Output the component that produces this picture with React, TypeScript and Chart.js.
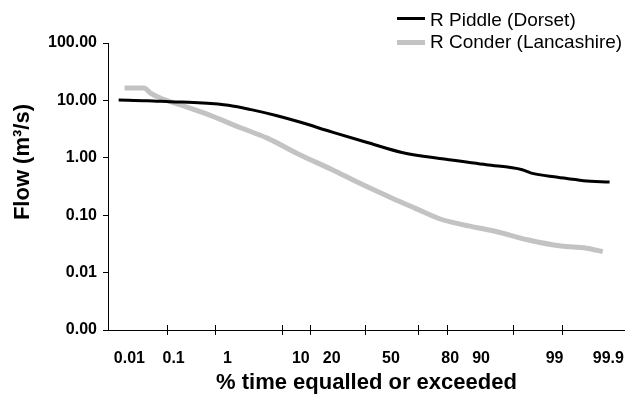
import React, { useEffect, useRef } from 'react';
import { Chart, registerables } from 'chart.js';

Chart.register(...registerables);

// ---- data (percent of time equalled or exceeded, flow in m3/s) ----
const piddlePct = [0.0054, 0.0265, 0.084, 0.367, 1.04, 2.34, 5.27, 9.73, 20.2, 36.8, 56.2, 77.5, 91.25, 96.9, 97.7, 99.11, 99.69, 99.906];
const piddleFlow = [10.2, 9.9, 9.5, 9.0, 8.2, 6.9, 5.4, 4.2, 2.8, 1.85, 1.24, 0.95, 0.755, 0.62, 0.54, 0.46, 0.40, 0.377];

const conderPct = [0.0076, 0.0223, 0.0315, 0.052, 0.134, 0.483, 1.67, 3.94, 9.73, 20.2, 32.9, 50.7, 63.3, 76.1, 84.9, 93.25, 97.47, 99.22, 99.73, 99.87];
const conderFlow = [16.5, 16.5, 13.4, 11.0, 8.4, 5.6, 3.3, 2.2, 1.13, 0.62, 0.36, 0.198, 0.133, 0.085, 0.068, 0.052, 0.037, 0.029, 0.0266, 0.0232];

const seriesNames = ['R Piddle (Dorset)', 'R Conder (Lancashire)'];
const seriesColors = ['#000000', '#c3c3c3'];

// x axis: probability scale
const xLabelPct = [0.01, 0.1, 1, 10, 20, 50, 80, 90, 99, 99.9];
const xLabelText = ['0.01', '0.1', '1', '10', '20', '50', '80', '90', '99', '99.9'];
const xTickMarkPct = [0.0711, 0.612, 6.15, 12.53, 35.42, 65.06, 78.61, 95.89, 99.26];
const xRangePct = [0.00287, 99.956];

// y axis: log scale
const yTickValues = [0.001, 0.01, 0.1, 1, 10, 100];

const xTitle = '% time equalled or exceeded';
const yTitle = 'Flow (m\u00b3/s)';

// inverse standard normal CDF (Acklam)
function normInv(p: number): number {
  const a = [-3.969683028665376e1, 2.209460984245205e2, -2.759285104469687e2, 1.38357751867269e2, -3.066479806614716e1, 2.506628277459239];
  const b = [-5.447609879822406e1, 1.615858368580409e2, -1.556989798598866e2, 6.680131188771972e1, -1.328068155288572e1];
  const c = [-7.784894002430293e-3, -3.223964580411365e-1, -2.400758277161838, -2.549732539343734, 4.374664141464968, 2.938163982698783];
  const d = [7.784695709041462e-3, 3.224671290700398e-1, 2.445134137142996, 3.754408661907416];
  const plow = 0.02425;
  const phigh = 1 - plow;
  if (p < plow) {
    const q = Math.sqrt(-2 * Math.log(p));
    return (((((c[0] * q + c[1]) * q + c[2]) * q + c[3]) * q + c[4]) * q + c[5]) / ((((d[0] * q + d[1]) * q + d[2]) * q + d[3]) * q + 1);
  }
  if (p <= phigh) {
    const q = p - 0.5;
    const r = q * q;
    return ((((((a[0] * r + a[1]) * r + a[2]) * r + a[3]) * r + a[4]) * r + a[5]) * q) / (((((b[0] * r + b[1]) * r + b[2]) * r + b[3]) * r + b[4]) * r + 1);
  }
  const q = Math.sqrt(-2 * Math.log(1 - p));
  return -(((((c[0] * q + c[1]) * q + c[2]) * q + c[3]) * q + c[4]) * q + c[5]) / ((((d[0] * q + d[1]) * q + d[2]) * q + d[3]) * q + 1);
}

const toZ = (pct: number) => normInv(pct / 100);

const crossTicksPlugin = {
  id: 'crossTicks',
  afterDraw(chart: any) {
    const xs = chart.scales.x;
    const ctx = chart.ctx;
    const y0 = chart.chartArea.bottom;
    ctx.save();
    ctx.strokeStyle = '#000';
    ctx.lineWidth = 1;
    xTickMarkPct.forEach((p) => {
      const px = Math.round(xs.getPixelForValue(toZ(p))) + 0.5;
      ctx.beginPath();
      ctx.moveTo(px, y0 - 5);
      ctx.lineTo(px, y0 + 5);
      ctx.stroke();
    });
    ctx.restore();
  },
};

export default function App() {
  const ref = useRef<HTMLCanvasElement | null>(null);

  useEffect(() => {
    if (!ref.current) return;
    Chart.defaults.font.family = '"Liberation Sans", Arial, sans-serif';
    Chart.defaults.color = '#000';
    const mk = (pcts: number[], flows: number[]) => pcts.map((p, i) => ({ x: toZ(p), y: flows[i] }));
    const chart = new Chart(ref.current, {
      type: 'line',
      data: {
        datasets: [
          {
            label: seriesNames[0],
            data: mk(piddlePct, piddleFlow),
            borderColor: seriesColors[0],
            backgroundColor: seriesColors[0],
            borderWidth: 3,
            pointRadius: 0,
            cubicInterpolationMode: 'monotone',
            fill: false,
          },
          {
            label: seriesNames[1],
            data: mk(conderPct, conderFlow),
            borderColor: seriesColors[1],
            backgroundColor: seriesColors[1],
            borderWidth: 5,
            pointRadius: 0,
            cubicInterpolationMode: 'monotone',
            fill: false,
          },
        ],
      },
      options: {
        animation: false,
        responsive: false,
        layout: { padding: { top: 43, right: 4, left: 0, bottom: 0 } },
        plugins: { legend: { display: false }, tooltip: { enabled: false } },
        scales: {
          x: {
            type: 'linear',
            min: toZ(xRangePct[0]),
            max: toZ(xRangePct[1]),
            afterBuildTicks: (s: any) => {
              s.ticks = xLabelPct.map((p) => ({ value: toZ(p) }));
            },
            afterFit: (s: any) => {
              s.height = 64;
            },
            ticks: {
              autoSkip: false,
              maxRotation: 0,
              padding: 19,
              font: { size: 16, weight: 'bold' },
              callback: (_v: any, i: number) => xLabelText[i],
            },
            grid: { display: false, drawTicks: false },
            border: { display: true, color: '#000', width: 1 },
            title: {
              display: true,
              text: xTitle,
              font: { size: 22, weight: 'bold', lineHeight: 1 },
              padding: { top: 0, bottom: 0 },
            },
          },
          y: {
            type: 'logarithmic',
            min: 0.001,
            max: 100,
            afterBuildTicks: (s: any) => {
              s.ticks = yTickValues.map((v) => ({ value: v }));
            },
            afterFit: (s: any) => {
              s.width = 108;
            },
            ticks: {
              padding: 6,
              font: { size: 16, weight: 'bold' },
              callback: (v: any) => Number(v).toFixed(2),
            },
            grid: { display: true, drawOnChartArea: false, drawTicks: true, tickLength: 5, color: '#000', lineWidth: 1 },
            border: { display: true, color: '#000', width: 1 },
            title: {
              display: true,
              text: '        ' + yTitle,
              font: { size: 22, weight: 'bold', lineHeight: 1.2 },
              padding: { top: 10, bottom: 0 },
            },
          },
        },
      },
      plugins: [crossTicksPlugin],
    } as any);
    return () => chart.destroy();
  }, []);

  const legendText: React.CSSProperties = {
    position: 'absolute',
    left: 430,
    fontFamily: '"Liberation Sans", Arial, sans-serif',
    fontSize: 19,
    lineHeight: '22px',
    color: '#000',
    whiteSpace: 'nowrap',
  };

  return (
    <div style={{ position: 'absolute', left: 0, top: 0, width: 643, height: 394, background: '#fff' }}>
      <canvas ref={ref} width={643} height={394} style={{ display: 'block' }} />
      <div style={{ position: 'absolute', left: 397, top: 17, width: 28, height: 3, background: seriesColors[0] }} />
      <div style={{ ...legendText, top: 9 }}>{seriesNames[0]}</div>
      <div style={{ position: 'absolute', left: 397, top: 40, width: 28, height: 5, background: seriesColors[1] }} />
      <div style={{ ...legendText, top: 31 }}>{seriesNames[1]}</div>
    </div>
  );
}
